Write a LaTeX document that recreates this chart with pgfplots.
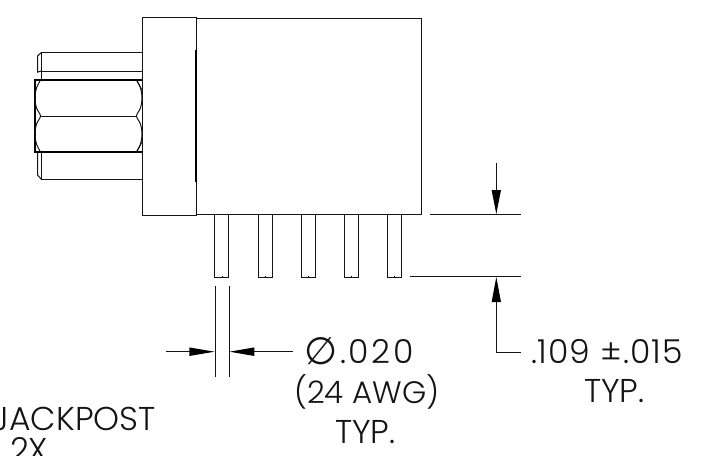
\documentclass[border=0pt]{standalone}
\usepackage{fontspec}
\setmainfont{Poppins}[UprightFont=* Light]
\newfontfamily\symfont{DejaVu Sans}
\newfontfamily\numa{Poppins}[UprightFont=* Light, LetterSpace=8]
\newfontfamily\numb{Poppins}[UprightFont=* Light, LetterSpace=3]
\usepackage{pgfplots}
\pgfplotsset{compat=1.18}
\definecolor{ink}{rgb}{0.08,0.08,0.08}
\tikzset{
    ln/.style={color=ink, line width=1pt, line cap=rect},
    thk/.style={color=black, line width=1.5pt, line cap=rect},
    tick/.style={color=ink, line width=0.8pt, line cap=butt},
    head/.style={fill=black, draw=none},
    lbl/.style={anchor=base west, inner sep=0pt, outer sep=0pt, text=ink, font=\fontsize{33}{33}\selectfont},
}

\begin{document}
\begin{tikzpicture}
\useasboundingbox (0,0) rectangle (719pt,455pt);
\clip (0,0) rectangle (719pt,455pt);
\begin{axis}[
    at={(0,0)},
    anchor=south west,
    width=719pt,
    height=455pt,
    scale only axis,
    hide axis,
    xmin=0,
    xmax=719,
    ymin=0,
    ymax=455,
    y dir=reverse,
    clip=false,
]

% body and flange
\addplot[ln] coordinates {(196,18) (421,18) (421,214) (196,214)};
\addplot[ln] coordinates {(142,17.5) (196,17.5) (196,215) (142,215) (142,17.5)};
\addplot[thk, line width=1.7pt] coordinates {(196,51) (196,181)};

% threaded post
\addplot[ln] coordinates {(41.5,52.5) (142,52.5)};
\addplot[ln] coordinates {(41.5,71) (142,71)};
\addplot[ln] coordinates {(41.5,179.5) (142,179.5)};
\addplot[ln] coordinates {(41.5,52.5) (41.5,80)};
\addplot[ln] coordinates {(41.5,152) (41.5,179.5)};
\addplot[ln] coordinates {(37.5,72) (37.5,56) (41.5,52.5)};
\addplot[ln] coordinates {(37.5,72) (41.5,71)};
\addplot[ln] coordinates {(37.5,152) (37.5,175) (41.5,179.5)};

% hex nut
\addplot[thk] coordinates {(142,80) (35,80) (35,152) (142,152)};
\addplot[ln] coordinates {(40.5,116) (136.5,116)};
\addplot[ln, smooth] coordinates {(40.5,80) (36.5,88) (35,98) (36.5,108) (40.5,116) (36.5,124) (35,134) (36.5,144) (40.5,152)};
\addplot[ln, smooth] coordinates {(136.5,80) (140.5,88) (142,98) (140.5,108) (136.5,116) (140.5,124) (142,134) (140.5,144) (136.5,152)};
\addplot[ln] coordinates {(136.5,80) (142,90)};
\addplot[ln] coordinates {(136.5,152) (142,142)};

% pins
\addplot[ln] coordinates {(214.7,214) (214.7,277) (228.7,277) (228.7,214)};
\addplot[ln] coordinates {(258,214) (258,277) (272,277) (272,214)};
\addplot[ln] coordinates {(301.3,214) (301.3,277) (315.3,277) (315.3,214)};
\addplot[ln] coordinates {(344.3,214) (344.3,277) (358.3,277) (358.3,214)};
\addplot[ln] coordinates {(387.3,214) (387.3,277) (401.7,277) (401.7,214)};
\addplot[tick] coordinates {(221.7,275.5) (221.7,277)};
\addplot[tick] coordinates {(265,275.5) (265,277)};
\addplot[tick] coordinates {(308.3,275.5) (308.3,277)};
\addplot[tick] coordinates {(351.3,275.5) (351.3,277)};
\addplot[tick] coordinates {(394.5,275.5) (394.5,277)};

% .109 dimension
\addplot[ln] coordinates {(430,214) (520.7,214)};
\addplot[ln] coordinates {(410.7,276.7) (520.7,276.7)};
\addplot[ln] coordinates {(496.3,163) (496.3,190)};
\addplot[head] coordinates {(496.3,214) (491.6,190) (501,190)} --cycle;
\addplot[head] coordinates {(496.3,277) (491.6,302) (501,302)} --cycle;
\addplot[ln] coordinates {(496.3,302) (496.3,352.3) (520.7,352.3)};

% diameter dimension
\addplot[ln] coordinates {(215,286) (215,376.7)};
\addplot[ln] coordinates {(229,286) (229,376.7)};
\addplot[ln] coordinates {(166.7,351.7) (189.3,351.7)};
\addplot[ln] coordinates {(254.3,351.7) (292.3,351.7)};
\addplot[head] coordinates {(214.5,351.7) (189.3,347.4) (189.3,356)} --cycle;
\addplot[head] coordinates {(229.5,351.7) (254.3,347.4) (254.3,356)} --cycle;

\node[lbl] at (axis cs:304,364) {{\symfont\fontsize{38}{38}\selectfont ∅}};
\node[lbl] at (axis cs:340,363) {{\numa .020}};
\node[lbl] at (axis cs:294,403) {\fontsize{31}{31}\selectfont (24 AWG)};
\node[lbl] at (axis cs:335,443) {TYP.};
\node[lbl] at (axis cs:531,363) {{\numb .109 ±.015}};
\node[lbl] at (axis cs:584,402) {TYP.};
\node[lbl] at (axis cs:-7,430) {JACKPOST};
\node[lbl] at (axis cs:10,461) {2X};

\end{axis}
\end{tikzpicture}
\end{document}
